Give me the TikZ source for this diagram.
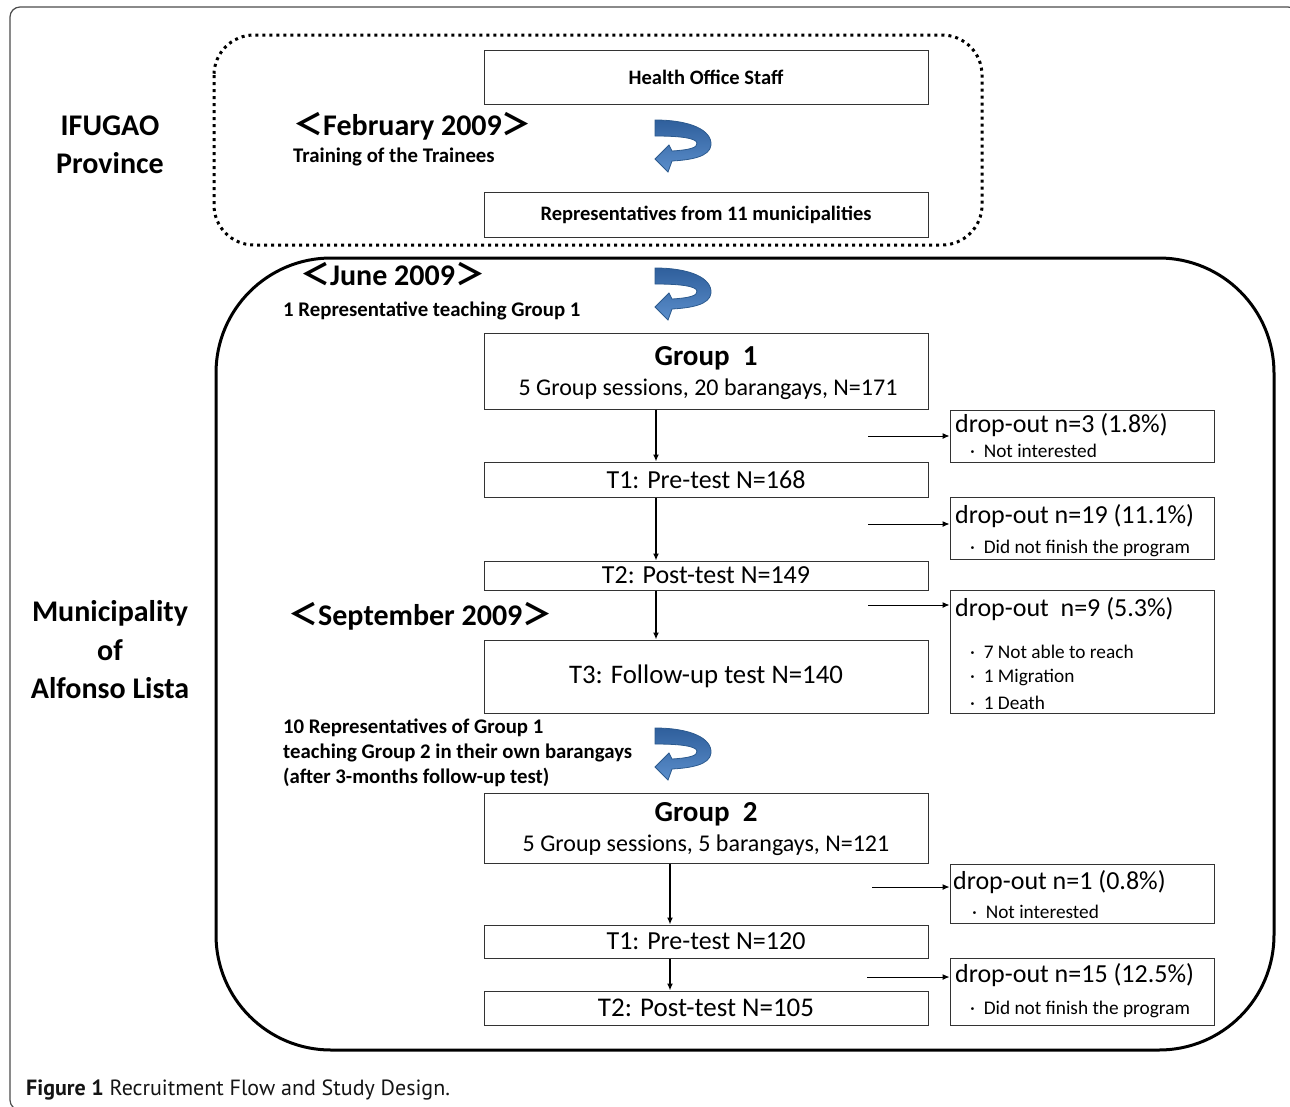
\documentclass[tikz,border=0pt]{standalone}
\usepackage{fontspec}
\setmainfont{Carlito}
\newfontfamily\cjk{Noto Sans CJK JP}
\newfontfamily\capfont{PT Sans}
\usetikzlibrary{arrows.meta}
\definecolor{arrblue}{HTML}{3C72B0}
\definecolor{arrdark}{HTML}{2F5F9C}
\definecolor{arrlight}{HTML}{5B8ECB}
\definecolor{arredge}{HTML}{2C5A8E}
\definecolor{boxline}{HTML}{333333}
\begin{document}
\begin{tikzpicture}[x=1pt,y=-1pt,
  fbox/.style={draw=boxline, line width=1pt, minimum width=444pt, inner sep=0pt},
  dbox/.style={draw=boxline, line width=1pt, minimum width=264pt, inner sep=0pt},
  side/.style={font=\bfseries\fontsize{30}{38.5}\selectfont, align=center, inner sep=0pt},
  datelbl/.style={font=\bfseries\fontsize{30}{32}\selectfont, anchor=west, inner sep=0pt},
  small/.style={font=\bfseries\fontsize{20.8}{25}\selectfont, anchor=west, inner sep=0pt, align=left},
  officefont/.style={font=\bfseries\fontsize{20.5}{24}\selectfont},
  big/.style={font=\fontsize{24}{28}\selectfont, inner sep=0pt},
  testfont/.style={font=\fontsize{26}{30}\selectfont},
  head/.style={font=\bfseries\fontsize{29}{32}\selectfont, inner sep=0pt},
  dmain/.style={font=\fontsize{26}{30}\selectfont, anchor=west, inner sep=0pt},
  dsub/.style={font=\fontsize{19.3}{22}\selectfont, anchor=west, inner sep=0pt},
  flow/.style={line width=1.5pt, -{Latex[length=7pt,width=6pt]}},
  side arrow/.style={line width=1pt, -{Latex[length=7pt,width=6pt]}},
  uturn/.pic={
    \path[top color=arrdark, bottom color=arrlight, draw=arredge, line width=0.8pt]
      (0,0) .. controls (35,0) and (57,10) .. (56,25)
      .. controls (55,37) and (35,40) .. (17,41)
      -- (13,52) -- (0,39) -- (14,25) -- (17,31)
      .. controls (33,30) and (43,28) .. (42,23)
      .. controls (41,18) and (25,16) .. (0,16) -- cycle;
  }]
\useasboundingbox (0,0) rectangle (1290,1106);
% outer frame
\draw[gray!60!black, line width=1.2pt, rounded corners=10pt] (10,7) rectangle (1298,1110);
% dotted province frame
\draw[line width=3pt, dash pattern=on 3pt off 4pt, rounded corners=40pt] (214,35) rectangle (982,245);
% municipality frame
\draw[line width=3pt, rounded corners=115pt] (216,258) rectangle (1274,1050);

% side labels
\node[side] (ifugao) at (110,145) {IFUGAO\\Province};
\node[side] (muni) at (110,650) {Municipality\\of\\Alfonso Lista};

% province part
\node[fbox, minimum height=54pt, officefont] (hos) at (706,77) {Health Office Staff};
\node[fbox, minimum height=45pt, officefont] (rep) at (706,214.5) {Representatives from 11 municipalities};
\node[datelbl] (feb) at (293,126) {{\cjk ＜}February 2009{\cjk ＞}};
\node[small] (train) at (293,157) {Training of the Trainees};
\pic at (655,120) {uturn};

% group 1
\node[datelbl] (jun) at (300,274) {{\cjk ＜}June 2009{\cjk ＞}};
\node[small] (onerep) at (283,311) {1 Representative teaching Group 1};
\pic at (655,268) {uturn};

\node[fbox, minimum height=76pt] (g1) at (706,371) {};
\node[head] (g1h) at (706,358) {Group\ \ 1};
\node[big] (g1t) at (708,389) {5 Group sessions, 20 barangays, N=171};
\node[fbox, minimum height=35pt, testfont] (t1) at (706,479.5) {T1: Pre-test N=168};
\node[fbox, minimum height=29pt, testfont] (t2) at (706,575.5) {T2: Post-test N=149};
\node[fbox, minimum height=73pt, font=\fontsize{26.8}{30}\selectfont] (t3) at (706,676.5) {T3: Follow-up test N=140};
\node[datelbl] (sep) at (288,616) {{\cjk ＜}September 2009{\cjk ＞}};

\coordinate (ax1) at (656,0);
\draw[flow] (g1.south -| ax1) -- (t1.north -| ax1);
\draw[flow] (t1.south -| ax1) -- (t2.north -| ax1);
\draw[flow] (t2.south -| ax1) -- (t3.north -| ax1);

% drop-outs group 1
\node[dbox, minimum height=52pt] (d1) at (1082,436) {};
\node[dmain] (d1a) at (955,425) {drop-out n=3 (1.8\%)};
\node[dsub] (d1b) at (970,451) {·\ \ Not interested};
\node[dbox, minimum height=62pt] (d2) at (1082,528) {};
\node[dmain] (d2a) at (955,516) {drop-out n=19 (11.1\%)};
\node[dsub] (d2b) at (970,548) {·\ \ Did not finish the program};
\node[dbox, minimum height=123pt] (d3) at (1082,651.5) {};
\node[dmain] (d3a) at (955,609) {drop-out\ \ n=9 (5.3\%)};
\node[dsub] (d3b) at (970,652) {·\ \ 7 Not able to reach};
\node[dsub] (d3c) at (970,677) {·\ \ 1 Migration};
\node[dsub] (d3d) at (970,703) {·\ \ 1 Death};

\coordinate (s1) at (868,436);
\coordinate (s2) at (868,524);
\coordinate (s3) at (868,605);
\draw[side arrow] (s1) -- (s1 -| d1.west);
\draw[side arrow] (s2) -- (s2 -| d2.west);
\draw[side arrow] (s3) -- (s3 -| d3.west);

% group 2
\node[small] (tenrep) at (283,753) {10 Representatives of Group 1\\teaching Group 2 in their own barangays\\(after 3-months follow-up test)};
\pic at (655,728) {uturn};
\node[fbox, minimum height=70pt] (g2) at (706,828) {};
\node[head] (g2h) at (706,814) {Group\ \ 2};
\node[big] (g2t) at (706,845) {5 Group sessions, 5 barangays, N=121};
\node[fbox, minimum height=33pt, testfont] (t1b) at (706,941.5) {T1: Pre-test N=120};
\node[fbox, minimum height=34pt, font=\fontsize{27}{30}\selectfont] (t2b) at (706,1008) {T2: Post-test N=105};
\coordinate (ax2) at (670,0);
\draw[flow] (g2.south -| ax2) -- (t1b.north -| ax2);
\draw[flow] (t1b.south -| ax2) -- (t2b.north -| ax2);

\node[dbox, minimum height=59pt] (d4) at (1082,893.5) {};
\node[dmain] (d4a) at (953,882) {drop-out n=1 (0.8\%)};
\node[dsub] (d4b) at (972,912) {·\ \ Not interested};
\node[dbox, minimum height=67pt] (d5) at (1082,991.5) {};
\node[dmain] (d5a) at (955,975) {drop-out n=15 (12.5\%)};
\node[dsub] (d5b) at (970,1009) {·\ \ Did not finish the program};
\coordinate (s4) at (872,887);
\coordinate (s5) at (867,977);
\draw[side arrow] (s4) -- (s4 -| d4.west);
\draw[side arrow] (s5) -- (s5 -| d5.west);

% caption
\node[anchor=base west, inner sep=0pt, font=\capfont\fontsize{22}{26}\selectfont, text=black!92] (cap) at (26,1095) {\textbf{Figure 1} Recruitment Flow and Study Design.};
\end{tikzpicture}
\end{document}
